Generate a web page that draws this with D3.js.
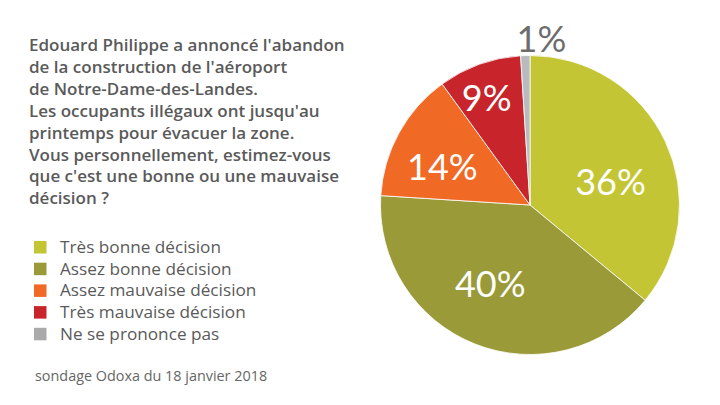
<!DOCTYPE html>
<html><head><meta charset="utf-8">
<script src="https://cdn.jsdelivr.net/npm/d3@7"></script>
<style>
html,body{margin:0;padding:0;background:#fff;}
svg{display:block;font-family:"Open Sans", sans-serif;}
</style></head>
<body>
<svg id="c" width="720" height="405"></svg>
<script>
const categories = ["Très bonne décision","Assez bonne décision","Assez mauvaise décision","Très mauvaise décision","Ne se prononce pas"];
const values = [36, 40, 14, 9, 1];
const colors = ["#c3c535","#9a9a38","#f06a25","#c8242b","#b8babd"];
const titleLines = ["Edouard Philippe a annoncé l'abandon","de la construction de l'aéroport","de Notre-Dame-des-Landes.","Les occupants illégaux ont jusqu'au","printemps pour évacuer la zone.","Vous personnellement, estimez-vous","que c'est une bonne ou une mauvaise","décision ?"];
const source = "sondage Odoxa du 18 janvier 2018";

const svg = d3.select("#c");
const cx = 530, cy = 205, R = 149.5;

// Title
const title = svg.append("text").attr("x", 29).attr("y", 51)
  .attr("fill", "#5a5a5a").attr("font-size", 17).attr("font-weight", 600);
titleLines.forEach((t,i)=>title.append("tspan").attr("x",29).attr("y",51+i*21.9).text(t));

// Legend
const leg = svg.append("g");
categories.forEach((c,i)=>{
  const y = 253 + i*21.7;
  leg.append("rect").attr("x",34).attr("y",y-12).attr("width",12.5).attr("height",12.5)
    .attr("fill", i===4 ? "#aaaaaa" : colors[i]);
  leg.append("text").attr("x",60).attr("y",y).attr("fill","#5a5a5a").attr("font-size",17.2).text(c);
});

// Source
svg.append("text").attr("x",35).attr("y",381).attr("fill","#666").attr("font-size",14.4).text(source);

// Pie
const pie = d3.pie().sort(null).value(d=>d)(values);
const arc = d3.arc().innerRadius(0).outerRadius(R);
const g = svg.append("g").attr("transform",`translate(${cx},${cy})`);
g.selectAll("path").data(pie).join("path")
  .attr("d",arc).attr("fill",(d,i)=>colors[i])
  .attr("stroke","#fff").attr("stroke-width",0.8).attr("stroke-linejoin","round");

const labelR = [0.56,0.59,0.64,0.77,1.11];
const angShift = [0.16,0.09,-0.09,-0.04,0.10];
g.selectAll("text.lbl").data(pie).join("text").attr("class","lbl")
  .attr("transform",(d,i)=>{
    const a = (d.startAngle+d.endAngle)/2 + angShift[i];
    const r = R*labelR[i];
    return `translate(${r*Math.sin(a)},${-r*Math.cos(a)})`;
  })
  .attr("text-anchor","middle").attr("dy","0.36em")
  .attr("fill",(d,i)=> i===4 ? "#6d6d6d" : "#fff")
  .attr("font-family","Lato, sans-serif")
  .attr("font-size",36)
  .text(d=>d.data+"%");
</script>
</body></html>
